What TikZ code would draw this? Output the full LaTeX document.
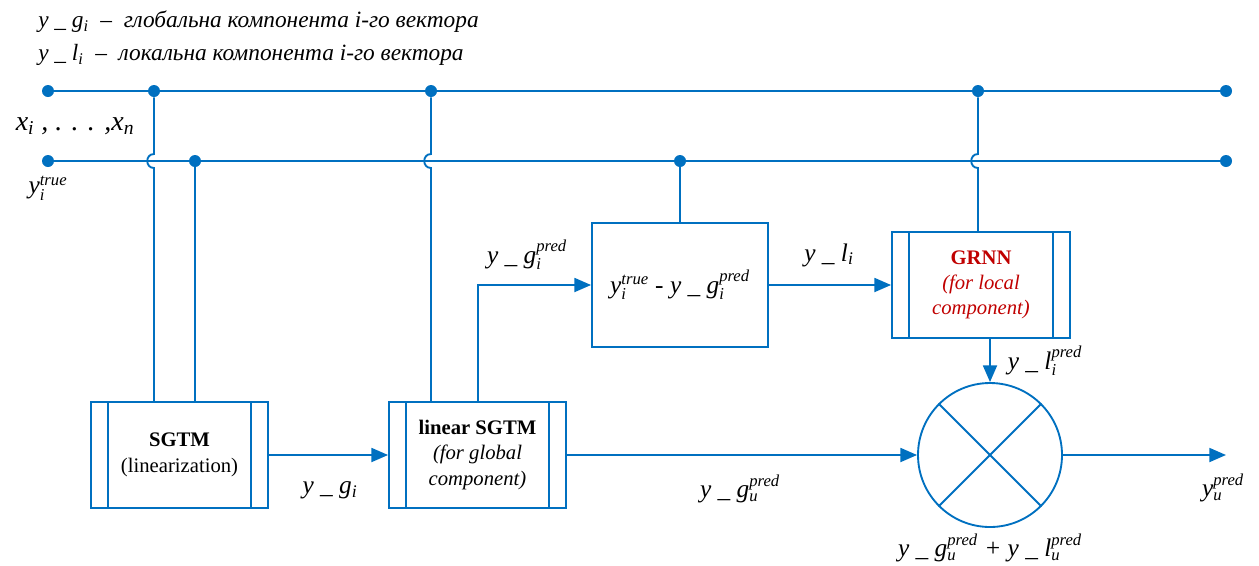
\documentclass[tikz,border=0pt]{standalone}
\usepackage{amsmath}
\usepackage{fontspec}
\setmainfont{Liberation Serif}
\usetikzlibrary{arrows.meta,calc}
\definecolor{myblue}{RGB}{0,112,192}
\definecolor{myred}{RGB}{192,0,0}
\newcommand\scr[1]{\text{\fontsize{12.5}{13}\selectfont\itshape #1}}
\newcommand\lbsc[2]{$_{\scr{#1}}^{\scr{#2}}$}
\begin{document}
\begin{tikzpicture}[x=0.75pt,y=-0.75pt,
  ln/.style={draw=myblue,line width=1.4pt},
  dot/.style={circle,fill=myblue,inner sep=0pt,minimum size=9pt},
  arr/.style={ln,-{Triangle[length=12.5pt,width=10.5pt]}},
  blk/.style={draw=myblue,line width=1.4pt,minimum width=132.75pt,minimum height=79.5pt,inner sep=0pt,align=center,font=\fontsize{15.5}{19}\selectfont},
  lab/.style={font=\fontsize{19}{21}\selectfont\itshape,inner sep=1pt},
  hdr/.style={font=\fontsize{17.5}{20}\selectfont\itshape,anchor=west,inner sep=0pt}]
\useasboundingbox (0,0) rectangle (1259,565);
% header
\node[hdr] (h1) at (38,22) {y \_ g\textsubscript{i} \ –\ \ глобальна компонента і-го вектора};
\node[hdr] (h2) at (38,55) {y \_ l\textsubscript{i} \ –\ \ локальна компонента і-го вектора};
% bus dots
\node[dot] (a0) at (48,91) {};
\node[dot] (a1) at (154,91) {};
\node[dot] (a2) at (431,91) {};
\node[dot] (a3) at (978,91) {};
\node[dot] (a4) at (1226,91) {};
\node[dot] (b0) at (48,161) {};
\node[dot] (b1) at (195,161) {};
\node[dot] (b2) at (680,161) {};
\node[dot] (b3) at (1226,161) {};
\draw[ln] (a0) -- (a1) -- (a2) -- (a3) -- (a4);
\draw[ln] (b0) -- (b1) -- (b2) -- (b3);
\node[lab,font=\fontsize{21}{23}\selectfont\itshape] (xl) at (75,126) {x\textsubscript{i} , . . . ,x\textsubscript{n}};
\node[lab] (yt) at (48,188) {y\lbsc{i}{true}};
% blocks
\node[blk] (sgtm) at (179.5,455) {\textbf{SGTM}\\(linearization)};
\node[blk] (lin) at (477.5,455) {\textbf{linear SGTM}\\\textit{(for global}\\\textit{component)}};
\node[draw=myblue,line width=1.4pt,minimum width=132pt,minimum height=93pt,inner sep=0pt,font=\fontsize{19}{21}\selectfont\itshape] (diff) at (680,285) {y\lbsc{i}{true} - y \_ g\lbsc{i}{pred}};
\node[blk,minimum width=133.5pt,text=myred] (grnn) at (981,285) {\textbf{GRNN}\\\textit{(for local}\\\textit{component)}};
\foreach \b in {sgtm,lin,grnn}{
  \draw[ln] ([xshift=13.5pt]\b.north west) -- ([xshift=13.5pt]\b.south west);
  \draw[ln] ([xshift=-13.5pt]\b.north east) -- ([xshift=-13.5pt]\b.south east);
}
\node[circle,draw=myblue,line width=1.4pt,minimum size=108pt,inner sep=0pt] (sum) at (990,455) {};
\draw[ln] (sum.45) -- (sum.225);
\draw[ln] (sum.135) -- (sum.315);
\coordinate (out) at (1226,455);
% verticals with hops
\draw[ln] (a1) -- ++(0,63) .. controls ++(-9,0) and ++(-9,0) .. ++(0,14) -- (a1 |- sgtm.north);
\draw[ln] (b1) -- (b1 |- sgtm.north);
\draw[ln] (a2) -- ++(0,63) .. controls ++(-9,0) and ++(-9,0) .. ++(0,14) -- (a2 |- lin.north);
\draw[ln] (b2) -- (diff.north);
\draw[ln] (a3) -- ++(0,63) .. controls ++(-9,0) and ++(-9,0) .. ++(0,14) -- (a3 |- grnn.north);
% arrows
\draw[arr] ($(lin.north)+(0.5,0)$) |- (diff.west);
\draw[arr] (sgtm.east) -- (lin.west);
\draw[arr] (diff.east) -- (grnn.west);
\draw[arr] (grnn.south -| sum.north) -- (sum.north);
\draw[arr] (lin.east) -- (sum.west);
\draw[arr] (sum.east) -- (out);
% labels
\node[lab] (l1) at (330,490) {y \_ g\textsubscript{i}};
\node[lab] (l2) at (527,255) {y \_ g\lbsc{i}{pred}};
\node[lab] (l3) at (829,255) {y \_ l\textsubscript{i}};
\node[lab] (l4) at (1045,361) {y \_ l\lbsc{i}{pred}};
\node[lab] (l5) at (740,489) {y \_ g\lbsc{u}{pred}};
\node[lab] (l6) at (1223,488) {y\lbsc{u}{pred}};
\node[lab] (l7) at (990,548) {y \_ g\lbsc{u}{pred} + y \_ l\lbsc{u}{pred}};
\end{tikzpicture}
\end{document}
